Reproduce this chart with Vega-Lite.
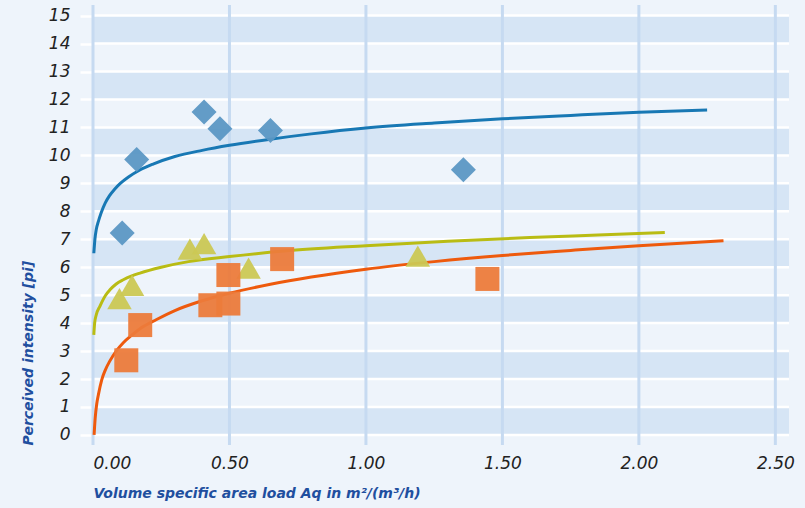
{
  "$schema": "https://vega.github.io/schema/vega-lite/v6.json",
  "width": 696,
  "height": 440,
  "autosize": {"type": "none"},
  "padding": {"left": 93, "top": 5, "right": 16, "bottom": 63},
  "background": "#eef4fb",
  "config": {
    "view": {"stroke": null},
    "axis": {
      "grid": false, "domain": false,
      "labelFont": "DejaVu Sans", "labelFontStyle": "italic", "labelFontSize": 17,
      "labelColor": "#222222", "labelPadding": 10,
      "titleFont": "DejaVu Sans", "titleFontStyle": "italic", "titleFontWeight": "bold",
      "titleFontSize": 14, "titleColor": "#1f4f9f", "titleAnchor": "start", "titlePadding": 15
    },
    "axisX": {"ticks": false, "format": ".2f"},
    "axisY": {"ticks": true, "tickColor": "#ffffff", "tickSize": 13, "tickWidth": 2.5, "titlePadding": 13}
  },
  "datasets": {
    "bands": [
      {"lo": 0, "hi": 1}, {"lo": 2, "hi": 3}, {"lo": 4, "hi": 5}, {"lo": 6, "hi": 7},
      {"lo": 8, "hi": 9}, {"lo": 10, "hi": 11}, {"lo": 12, "hi": 13}, {"lo": 14, "hi": 15}
    ],
    "hgrid": [
      {"v": 0}, {"v": 1}, {"v": 2}, {"v": 3}, {"v": 4}, {"v": 5}, {"v": 6}, {"v": 7},
      {"v": 8}, {"v": 9}, {"v": 10}, {"v": 11}, {"v": 12}, {"v": 13}, {"v": 14}, {"v": 15}
    ],
    "vgrid": [{"v": 0}, {"v": 0.5}, {"v": 1}, {"v": 1.5}, {"v": 2}, {"v": 2.5}],
    "curves": [
      {"series": "S1", "x": 0.003, "y": 6.5},
      {"series": "S1", "x": 0.007, "y": 7.0},
      {"series": "S1", "x": 0.012, "y": 7.35},
      {"series": "S1", "x": 0.02, "y": 7.65},
      {"series": "S1", "x": 0.03, "y": 7.95},
      {"series": "S1", "x": 0.045, "y": 8.3},
      {"series": "S1", "x": 0.06, "y": 8.55},
      {"series": "S1", "x": 0.08, "y": 8.8},
      {"series": "S1", "x": 0.1, "y": 9.0},
      {"series": "S1", "x": 0.13, "y": 9.23},
      {"series": "S1", "x": 0.17, "y": 9.47},
      {"series": "S1", "x": 0.22, "y": 9.69},
      {"series": "S1", "x": 0.3, "y": 9.96},
      {"series": "S1", "x": 0.4, "y": 10.18},
      {"series": "S1", "x": 0.5, "y": 10.36},
      {"series": "S1", "x": 0.65, "y": 10.58},
      {"series": "S1", "x": 0.8, "y": 10.77},
      {"series": "S1", "x": 1.0, "y": 10.98},
      {"series": "S1", "x": 1.25, "y": 11.16},
      {"series": "S1", "x": 1.5, "y": 11.31},
      {"series": "S1", "x": 1.75, "y": 11.43},
      {"series": "S1", "x": 2.0, "y": 11.54},
      {"series": "S1", "x": 2.25, "y": 11.62},
      {"series": "S2", "x": 0.0029, "y": 3.58},
      {"series": "S2", "x": 0.006, "y": 4.0},
      {"series": "S2", "x": 0.012, "y": 4.3},
      {"series": "S2", "x": 0.026, "y": 4.62},
      {"series": "S2", "x": 0.045, "y": 4.98},
      {"series": "S2", "x": 0.062, "y": 5.19},
      {"series": "S2", "x": 0.085, "y": 5.4},
      {"series": "S2", "x": 0.111, "y": 5.55},
      {"series": "S2", "x": 0.14, "y": 5.68},
      {"series": "S2", "x": 0.172, "y": 5.79},
      {"series": "S2", "x": 0.25, "y": 6.0},
      {"series": "S2", "x": 0.35, "y": 6.2},
      {"series": "S2", "x": 0.5, "y": 6.38},
      {"series": "S2", "x": 0.7, "y": 6.58},
      {"series": "S2", "x": 1.0, "y": 6.77},
      {"series": "S2", "x": 1.3, "y": 6.93},
      {"series": "S2", "x": 1.6, "y": 7.06},
      {"series": "S2", "x": 1.85, "y": 7.15},
      {"series": "S2", "x": 2.095, "y": 7.24},
      {"series": "S3", "x": 0.004, "y": 0.0},
      {"series": "S3", "x": 0.008, "y": 0.6},
      {"series": "S3", "x": 0.0135, "y": 1.1},
      {"series": "S3", "x": 0.02, "y": 1.45},
      {"series": "S3", "x": 0.032, "y": 1.97},
      {"series": "S3", "x": 0.045, "y": 2.32},
      {"series": "S3", "x": 0.062, "y": 2.65},
      {"series": "S3", "x": 0.085, "y": 3.0},
      {"series": "S3", "x": 0.111, "y": 3.3},
      {"series": "S3", "x": 0.14, "y": 3.55},
      {"series": "S3", "x": 0.172, "y": 3.8},
      {"series": "S3", "x": 0.233, "y": 4.13},
      {"series": "S3", "x": 0.3, "y": 4.45},
      {"series": "S3", "x": 0.4, "y": 4.8},
      {"series": "S3", "x": 0.5, "y": 5.07},
      {"series": "S3", "x": 0.65, "y": 5.39},
      {"series": "S3", "x": 0.8, "y": 5.65},
      {"series": "S3", "x": 1.0, "y": 5.93},
      {"series": "S3", "x": 1.25, "y": 6.2},
      {"series": "S3", "x": 1.5, "y": 6.42},
      {"series": "S3", "x": 1.75, "y": 6.6},
      {"series": "S3", "x": 2.0, "y": 6.77},
      {"series": "S3", "x": 2.31, "y": 6.95}
    ],
    "points": [
      {"series": "S1", "x": 0.107, "y": 7.22},
      {"series": "S1", "x": 0.16, "y": 9.85},
      {"series": "S1", "x": 0.407, "y": 11.55},
      {"series": "S1", "x": 0.465, "y": 10.95},
      {"series": "S1", "x": 0.65, "y": 10.89},
      {"series": "S1", "x": 1.357, "y": 9.49},
      {"series": "S2", "x": 0.097, "y": 4.88},
      {"series": "S2", "x": 0.143, "y": 5.35},
      {"series": "S2", "x": 0.355, "y": 6.65},
      {"series": "S2", "x": 0.407, "y": 6.84},
      {"series": "S2", "x": 0.57, "y": 5.97},
      {"series": "S2", "x": 1.19, "y": 6.4},
      {"series": "S3", "x": 0.122, "y": 2.67},
      {"series": "S3", "x": 0.173, "y": 3.93},
      {"series": "S3", "x": 0.43, "y": 4.64},
      {"series": "S3", "x": 0.496, "y": 4.7},
      {"series": "S3", "x": 0.496, "y": 5.72},
      {"series": "S3", "x": 0.693, "y": 6.29},
      {"series": "S3", "x": 1.445, "y": 5.58}
    ]
  },
  "layer": [
    {
      "data": {"name": "bands"},
      "mark": {"type": "rect", "color": "#d6e5f5"},
      "encoding": {
        "x": {"datum": 0, "type": "quantitative", "title": "Volume specific area load Aq in m²/(m³/h)",
          "axis": {"values": [0, 0.5, 1, 1.5, 2, 2.5]}},
        "x2": {"datum": 2.55},
        "y": {"field": "lo", "type": "quantitative", "title": "Perceived intensity [pi]",
          "axis": {"values": [0, 1, 2, 3, 4, 5, 6, 7, 8, 9, 10, 11, 12, 13, 14, 15]}},
        "y2": {"field": "hi"}
      }
    },
    {
      "data": {"name": "hgrid"},
      "mark": {"type": "rule", "color": "#ffffff", "strokeWidth": 2.5},
      "encoding": {
        "x": {"datum": 0, "type": "quantitative", "title": "Volume specific area load Aq in m²/(m³/h)",
          "axis": {"values": [0, 0.5, 1, 1.5, 2, 2.5]}},
        "x2": {"datum": 2.55},
        "y": {"field": "v", "type": "quantitative", "title": "Perceived intensity [pi]",
          "axis": {"values": [0, 1, 2, 3, 4, 5, 6, 7, 8, 9, 10, 11, 12, 13, 14, 15]}}
      }
    },
    {
      "data": {"name": "vgrid"},
      "mark": {"type": "rule", "color": "#c6daf1", "strokeWidth": 3},
      "encoding": {
        "x": {"field": "v", "type": "quantitative", "title": "Volume specific area load Aq in m²/(m³/h)",
          "axis": {"values": [0, 0.5, 1, 1.5, 2, 2.5]}}
      }
    },
    {
      "data": {"name": "curves"},
      "mark": {"type": "line", "strokeWidth": 3, "interpolate": "monotone"},
      "encoding": {
        "x": {"field": "x", "type": "quantitative", "title": "Volume specific area load Aq in m²/(m³/h)",
          "axis": {"values": [0, 0.5, 1, 1.5, 2, 2.5]}},
        "y": {"field": "y", "type": "quantitative", "title": "Perceived intensity [pi]",
          "axis": {"values": [0, 1, 2, 3, 4, 5, 6, 7, 8, 9, 10, 11, 12, 13, 14, 15]}},
        "stroke": {
          "field": "series", "type": "nominal", "legend": null,
          "scale": {"domain": ["S1", "S2", "S3"], "range": ["#1878b4", "#b9bc14", "#ee5a0d"]}
        }
      }
    },
    {
      "data": {"name": "points"},
      "mark": {"type": "point", "filled": true, "opacity": 0.95},
      "encoding": {
        "x": {
          "field": "x", "type": "quantitative", "title": "Volume specific area load Aq in m²/(m³/h)",
          "scale": {"domain": [0, 2.55], "nice": false, "zero": false},
          "axis": {"values": [0, 0.5, 1, 1.5, 2, 2.5]}
        },
        "y": {
          "field": "y", "type": "quantitative", "title": "Perceived intensity [pi]",
          "scale": {"domain": [-0.36, 15.38], "nice": false, "zero": false},
          "axis": {"values": [0, 1, 2, 3, 4, 5, 6, 7, 8, 9, 10, 11, 12, 13, 14, 15]}
        },
        "fill": {
          "field": "series", "type": "nominal", "legend": null,
          "scale": {"domain": ["S1", "S2", "S3"], "range": ["#5b97c4", "#cbc854", "#ec7b3b"]}
        },
        "shape": {
          "field": "series", "type": "nominal", "legend": null,
          "scale": {"domain": ["S1", "S2", "S3"], "range": ["diamond", "triangle-up", "square"]}
        },
        "size": {
          "field": "series", "type": "nominal", "legend": null,
          "scale": {"domain": ["S1", "S2", "S3"], "range": [625, 576, 529]}
        }
      }
    }
  ]
}
